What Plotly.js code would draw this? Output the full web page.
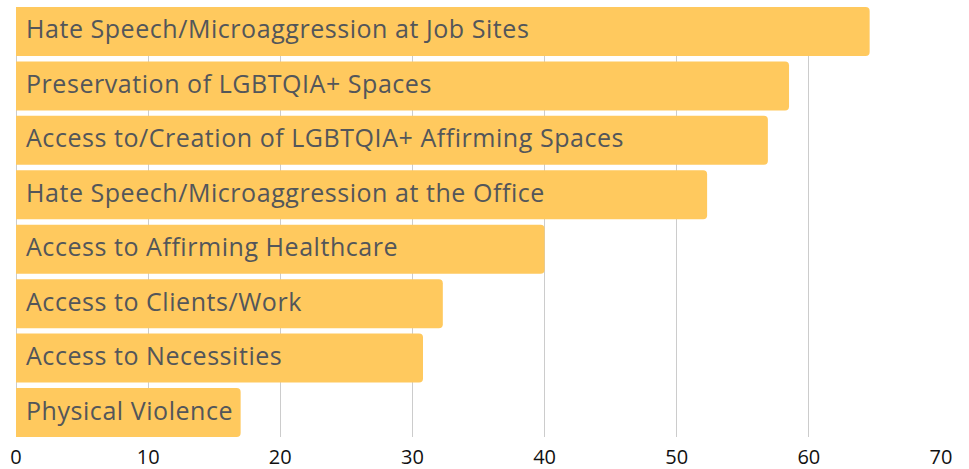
<!DOCTYPE html>
<html>
<head>
<meta charset="utf-8">
<script src="https://cdn.plot.ly/plotly-3.0.1.min.js"></script>
<style>
html,body{margin:0;padding:0;background:#fff;}
#chart{width:969px;height:469px;}
#chart .annotation-text{letter-spacing:0.55px;}
</style>
</head>
<body>
<div id="chart"></div>
<script>
const categories = [
  "Hate Speech/Microaggression at Job Sites",
  "Preservation of LGBTQIA+ Spaces",
  "Access to/Creation of LGBTQIA+ Affirming Spaces",
  "Hate Speech/Microaggression at the Office",
  "Access to Affirming Healthcare",
  "Access to Clients/Work",
  "Access to Necessities",
  "Physical Violence"
];
const values = [64.6, 58.5, 56.9, 52.3, 40.0, 32.3, 30.8, 17.0];
const tickValues = [0, 10, 20, 30, 40, 50, 60, 70];

const trace = {
  type: 'bar',
  orientation: 'h',
  y: categories,
  x: values,
  marker: {color: '#ffc95e', cornerradius: 4},
  hoverinfo: 'x+y'
};

const annotations = categories.map(c => ({
  x: 0, y: c, xref: 'x', yref: 'y',
  text: c, showarrow: false, xanchor: 'left', yanchor: 'middle', align: 'left',
  xshift: 8, yshift: 3,
  font: {family: 'Open Sans, sans-serif', size: 25, color: '#53565a'}
}));

const layout = {
  width: 969, height: 469,
  margin: {l: 16, r: 28, t: 7, b: 32},
  paper_bgcolor: '#fff', plot_bgcolor: '#fff',
  bargap: 0.1,
  showlegend: false,
  xaxis: {
    range: [0, 70], tickvals: tickValues, ticktext: tickValues.map(String),
    showgrid: true, gridcolor: '#cccccc', gridwidth: 1,
    zeroline: true, zerolinecolor: '#cccccc', zerolinewidth: 1,
    showline: false, ticks: '', ticklabelstandoff: 6,
    tickfont: {family: 'Open Sans, sans-serif', size: 20, color: '#111'}
  },
  yaxis: {
    range: [7.45, -0.45], type: 'category', showticklabels: false, showgrid: false,
    zeroline: false, showline: false, ticks: ''
  },
  annotations: annotations
};

Plotly.newPlot('chart', [trace], layout, {displayModeBar: false, staticPlot: true});
</script>
</body>
</html>
